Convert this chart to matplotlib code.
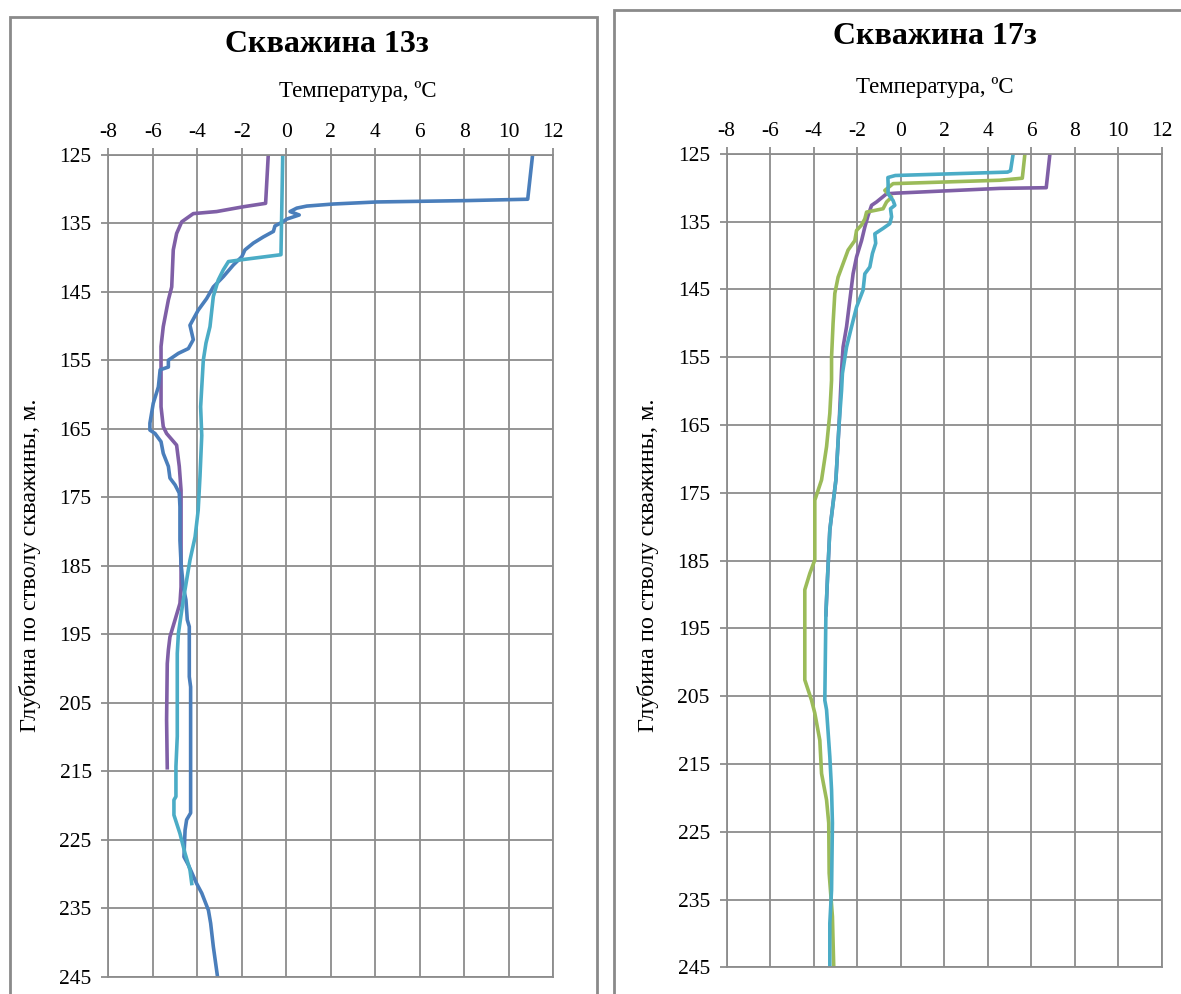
import matplotlib
matplotlib.use("Agg")
import matplotlib.pyplot as plt
from matplotlib.patches import Rectangle

# ---------------- data ----------------
x_ticks = [-8, -6, -4, -2, 0, 2, 4, 6, 8, 10, 12]
y_ticks = [125, 135, 145, 155, 165, 175, 185, 195, 205, 215, 225, 235, 245]

title_left = "Скважина 13з"
title_right = "Скважина 17з"
x_label = "Температура, ºС"
y_label = "Глубина по стволу скважины, м."

# Well 13z
w13_blue_depth = [125, 131.5, 131.7, 131.9, 132.2, 132.5, 132.8, 133.3, 133.8, 134.4, 134.9, 135.4,
                  136.2, 137.0, 137.9, 138.9, 139.9, 141.1, 142.8, 144.3, 146.0, 147.7, 149.9, 152.0,
                  153.3, 154.0, 155.0, 156.0, 156.4, 158.9, 161.3, 164.2, 165.2, 165.7, 166.9, 168.6,
                  170.5, 172.2, 173.2, 174.4, 176.4, 181.3, 184.7, 188.1, 190.0, 192.9, 193.9, 201.2,
                  202.7, 214.3, 221.1, 222.1, 223.6, 227.5, 228.7, 231.4, 232.8, 235.3, 237.2, 240.6, 244.8]
w13_blue_temp = [11.07, 10.85, 8.11, 4.06, 2.11, 0.92, 0.47, 0.17, 0.58, 0.02, -0.21, -0.51,
                 -0.58, -1.03, -1.48, -1.86, -2.0, -2.38, -2.83, -3.28, -3.58, -3.96, -4.33, -4.18,
                 -4.4, -4.85, -5.3, -5.3, -5.67, -5.75, -5.98, -6.13, -6.13, -5.9, -5.63, -5.53,
                 -5.3, -5.23, -5.0, -4.81, -4.78, -4.78, -4.73, -4.63, -4.51, -4.45, -4.36, -4.36,
                 -4.3, -4.3, -4.3, -4.48, -4.55, -4.6, -4.4, -4.03, -3.8, -3.5, -3.4, -3.28, -3.1]

w13_purple_depth = [125, 132.1, 132.6, 133.3, 133.6, 134.8, 136.5, 138.9, 144.3, 146.2, 150.1, 153.0,
                    161.8, 164.7, 165.7, 167.4, 170.5, 174.0, 188.1, 190.5, 192.9, 195.4, 197.3, 199.3,
                    207.5, 214.5]
w13_purple_temp = [-0.81, -0.93, -1.93, -3.13, -4.18, -4.7, -4.93, -5.08, -5.15, -5.3, -5.53, -5.63,
                   -5.63, -5.53, -5.38, -4.93, -4.81, -4.73, -4.73, -4.78, -5.0, -5.23, -5.3, -5.35,
                   -5.38, -5.35]

w13_teal_depth = [125, 139.6, 140.3, 140.6, 141.8, 143.3, 145.7, 150.1, 152.5, 155.0, 161.8, 166.0,
                  172.0, 176.9, 180.8, 184.2, 187.1, 190.0, 194.9, 197.8, 209.9, 214.3, 218.7, 219.2,
                  221.4, 224.1, 227.0, 229.4, 231.4]
w13_teal_temp = [-0.16, -0.24, -1.93, -2.6, -2.83, -3.06, -3.28, -3.43, -3.61, -3.73, -3.85, -3.8,
                 -3.88, -3.96, -4.1, -4.33, -4.48, -4.63, -4.85, -4.9, -4.9, -4.96, -4.96, -5.05,
                 -5.05, -4.78, -4.55, -4.33, -4.25]

# Well 17z
w17_purple_depth = [125, 130.0, 130.1, 130.8, 130.9, 132.1, 132.6, 134.1, 135.8, 137.8, 140.2, 142.7,
                    146.6, 150.5, 153.5, 156.9, 164.7, 173.1, 180.5, 187.8, 193.0]
w17_purple_temp = [6.87, 6.70, 4.57, -0.18, -0.64, -1.1, -1.33, -1.49, -1.64, -1.79, -2.02, -2.18,
                   -2.33, -2.48, -2.64, -2.71, -2.82, -2.97, -3.25, -3.36, -3.43]

w17_green_depth = [125, 128.6, 128.9, 129.4, 130.4, 131.4, 132.1, 133.1, 133.6, 134.6, 135.5, 136.3,
                   137.8, 139.2, 141.2, 143.2, 145.6, 150.0, 155.0, 158.4, 163.3, 168.2, 173.1, 176.1,
                   184.9, 186.9, 189.3, 202.6, 205.6, 207.5, 211.5, 216.4, 220.3, 223.7, 231.1, 237.5, 244.9]
w17_green_temp = [5.72, 5.6, 4.57, -0.34, -0.72, -0.41, -0.64, -0.8, -1.56, -1.64, -1.79, -2.02,
                  -2.1, -2.41, -2.64, -2.87, -3.02, -3.1, -3.17, -3.17, -3.25, -3.4, -3.63, -3.94,
                  -3.94, -4.17, -4.4, -4.4, -4.09, -3.94, -3.71, -3.63, -3.4, -3.3, -3.28, -3.13, -3.07]

w17_cyan_depth = [125, 127.5, 127.7, 128.2, 128.5, 129.4, 130.9, 131.9, 132.6, 133.1, 134.3, 135.3,
                  136.0, 136.8, 138.2, 139.7, 141.7, 142.7, 145.1, 147.6, 150.5, 153.5, 157.4, 159.9,
                  164.7, 173.1, 180.5, 187.8, 192.8, 205.6, 207.0, 213.9, 218.8, 223.7, 233.6, 238.5, 244.9]
w17_cyan_temp = [5.18, 5.06, 4.92, -0.24, -0.58, -0.57, -0.57, -0.34, -0.26, -0.46, -0.41, -0.49,
                 -0.8, -1.18, -1.14, -1.29, -1.41, -1.64, -1.72, -2.02, -2.25, -2.48, -2.67, -2.71,
                 -2.82, -2.97, -3.25, -3.36, -3.43, -3.48, -3.4, -3.25, -3.17, -3.13, -3.17, -3.25, -3.25]

# ---------------- styling ----------------
C_BLUE = "#4A7EBB"
C_PURPLE = "#7F5FA6"
C_TEAL = "#4BACC6"
C_GREEN = "#9BBB59"
GRID = "#8C8C8C"
FRAME = "#8A8A8A"
SERIF = ["Liberation Serif", "DejaVu Serif"]
LW = 2.6

W, H = 1181, 994
fig = plt.figure(figsize=(W / 100, H / 100), dpi=100)
fig.patch.set_facecolor("white")


def px_rect(x0, y_top, x1, y_bot):
    """convert pixel box (top-left origin) to figure fraction [l, b, w, h]"""
    return [x0 / W, 1 - y_bot / H, (x1 - x0) / W, (y_bot - y_top) / H]


# chart frames
fig.add_artist(Rectangle((10 / W, -0.02), (597 - 10) / W, 0.02 + (H - 17) / H,
                         transform=fig.transFigure, fill=False, edgecolor=FRAME, lw=2.0))
fig.add_artist(Rectangle((614 / W, -0.02), 0.5, 0.02 + (H - 10) / H,
                         transform=fig.transFigure, fill=False, edgecolor=FRAME, lw=2.0))


def setup(ax):
    ax.set_xlim(x_ticks[0], x_ticks[-1])
    ax.set_ylim(y_ticks[-1], y_ticks[0])
    ax.set_xticks(x_ticks)
    ax.set_yticks(y_ticks)
    ax.xaxis.tick_top()
    ax.set_xticklabels([str(v) for v in x_ticks])
    ax.set_yticklabels([str(v) for v in y_ticks])
    ax.grid(True, color=GRID, lw=1.3)
    ax.set_axisbelow(True)
    for s in ax.spines.values():
        s.set_color(GRID)
        s.set_linewidth(1.3)
    ax.tick_params(axis="both", direction="out", length=5, width=1.3, color=GRID,
                   labelsize=15.5)
    ax.tick_params(axis="x", pad=4)
    ax.tick_params(axis="y", pad=7)
    for lab in ax.get_xticklabels() + ax.get_yticklabels():
        lab.set_family(SERIF)
        lab.set_color("black")


axL = fig.add_axes(px_rect(108.3, 154.7, 553.3, 976.7))
setup(axL)
axL.plot(w13_purple_temp, w13_purple_depth, color=C_PURPLE, lw=LW, solid_joinstyle="round")
axL.plot(w13_blue_temp, w13_blue_depth, color=C_BLUE, lw=LW, solid_joinstyle="round")
axL.plot(w13_teal_temp, w13_teal_depth, color=C_TEAL, lw=LW, solid_joinstyle="round")

axR = fig.add_axes(px_rect(726.5, 153.8, 1161.5, 967.4))
setup(axR)
axR.plot(w17_purple_temp, w17_purple_depth, color=C_PURPLE, lw=LW, solid_joinstyle="round")
axR.plot(w17_green_temp, w17_green_depth, color=C_GREEN, lw=LW, solid_joinstyle="round")
axR.plot(w17_cyan_temp, w17_cyan_depth, color=C_TEAL, lw=LW, solid_joinstyle="round")

# titles and axis labels (pixel positions)
def ftext(x, y, s, **kw):
    fig.text(x / W, 1 - y / H, s, ha="center", va="center", family=SERIF, **kw)

ftext(327, 45, title_left, fontsize=23, fontweight="bold")
ftext(935, 37, title_right, fontsize=23, fontweight="bold")
ftext(358, 91, x_label, fontsize=16.5)
ftext(935, 87, x_label, fontsize=16.5)
ftext(30, 565, y_label, fontsize=17.5, rotation=90)
ftext(648, 565, y_label, fontsize=17.5, rotation=90)

fig.savefig("out.png", dpi=100, facecolor="white")
